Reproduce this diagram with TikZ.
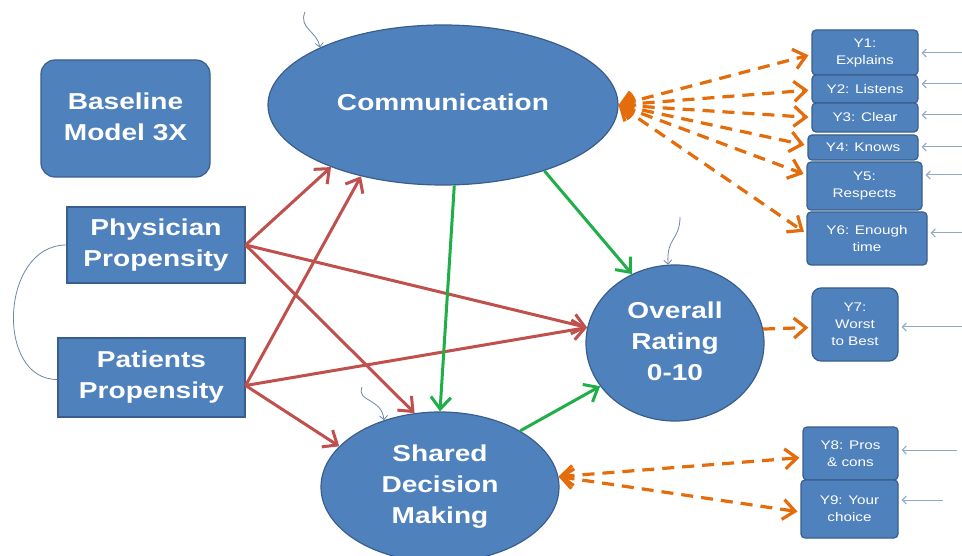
\documentclass[tikz,border=0pt]{standalone}
\usepackage{fontspec}
\setmainfont{Liberation Sans}[FakeStretch=1.22]
\usetikzlibrary{shapes.geometric,arrows.meta}

\definecolor{nodefill}{HTML}{4F81BD}
\definecolor{nodeline}{HTML}{3A5E8C}
\definecolor{pathred}{HTML}{C0504D}
\definecolor{pathgreen}{HTML}{1FAE48}
\definecolor{loadorange}{HTML}{E46C0A}
\definecolor{errline}{HTML}{8FA8C8}
\definecolor{disturb}{HTML}{6D87A8}

\tikzset{
  bigtext/.style={text=white, font=\bfseries\fontsize{23}{31}\selectfont, align=center},
  latent/.style={ellipse, fill=nodefill, draw=nodeline, line width=1.2pt, inner sep=0pt, bigtext},
  exogen/.style={rectangle, fill=nodefill, draw=nodeline, line width=1.2pt, inner sep=0pt, bigtext},
  titlebox/.style={exogen, rounded corners=14pt},
  indicator/.style={rectangle, rounded corners=4pt, fill=nodefill, draw=nodeline, line width=1.2pt,
    inner sep=0pt, text=white, font=\fontsize{12.5}{17}\selectfont, align=center},
  cause/.style={pathred, line width=3pt, -{Straight Barb[length=12pt,width=20pt]}},
  effect/.style={pathgreen, line width=3pt, -{Straight Barb[length=12pt,width=20pt]}},
  loading/.style={loadorange, line width=3.2pt, dash pattern=on 12pt off 8pt,
    {Straight Barb[length=12pt,width=20pt]}-{Straight Barb[length=12pt,width=20pt]}, shorten >=3pt},
  loadone/.style={loadorange, line width=3.2pt, dash pattern=on 12pt off 8pt,
    -{Straight Barb[length=12pt,width=20pt]}, shorten >=3pt},
  errarrow/.style={errline, line width=1pt, -{Straight Barb[length=4pt,width=8pt]}, shorten >=3pt},
  disturbance/.style={disturb, line width=0.8pt, -{Straight Barb[length=4pt,width=8pt]}},
  covary/.style={disturb, line width=0.8pt}
}

\begin{document}
\begin{tikzpicture}[x=1pt,y=-1pt]
\useasboundingbox[fill=white] (0,0) rectangle (962,556);

% latent factors
\node[latent, minimum width=350pt, minimum height=160pt] (comm) at (443,105) {\raisebox{6pt}{Communication}};
\node[latent, minimum width=178pt, minimum height=156pt] (overall) at (675,343) {\raisebox{4pt}{\begin{tabular}{@{}c@{}}Overall\\Rating\\0-10\end{tabular}}};
\node[latent, minimum width=238pt, minimum height=150pt] (shared) at (440,487) {Shared\\Decision\\Making};

% title and exogenous propensities
\node[titlebox, minimum width=169pt, minimum height=117pt] (title) at (125.5,118.5) {\raisebox{4pt}{\begin{tabular}{@{}c@{}}Baseline\\Model 3X\end{tabular}}};
\node[exogen, minimum width=178pt, minimum height=76pt] (phys) at (156,245) {Physician\\Propensity};
\node[exogen, minimum width=187pt, minimum height=79pt] (pat) at (151.5,377.5) {Patients\\Propensity};

% indicators
\node[indicator, minimum width=106pt, minimum height=45pt] (y1) at (865,52.5) {Y1:\\Explains};
\node[indicator, minimum width=106pt, minimum height=28pt] (y2) at (865,89) {Y2: Listens};
\node[indicator, minimum width=106pt, minimum height=29pt] (y3) at (865,117.5) {Y3: Clear};
\node[indicator, minimum width=110pt, minimum height=25pt] (y4) at (863,147.5) {Y4: Knows};
\node[indicator, minimum width=115pt, minimum height=48pt] (y5) at (864.5,186) {Y5:\\Respects};
\node[indicator, minimum width=120pt, minimum height=53pt] (y6) at (867,238.5) {Y6: Enough\\time};
\node[indicator, rounded corners=9pt, minimum width=86pt, minimum height=73pt] (y7) at (855,324.5) {Y7:\\Worst\\to Best};
\node[indicator, minimum width=95pt, minimum height=53pt] (y8) at (850.5,453.5) {Y8: Pros\\\& cons};
\node[indicator, minimum width=97pt, minimum height=58pt] (y9) at (849.5,509) {Y9: Your\\choice};

% covariance between the propensities
\draw[covary] (phys.west) .. controls (0,245) and (-5,380) .. ([yshift=-2pt]pat.west);

% structural paths from the propensities
\draw[cause] (phys.east) -- (comm.209);
\draw[cause] (phys.east) -- (overall.170);
\draw[cause] (phys.east) -- (shared.109);
\draw[cause] ([yshift=-8pt]pat.east) -- (comm.221);
\draw[cause] ([yshift=-8pt]pat.east) -- (overall.170);
\draw[cause] ([yshift=-8pt]pat.east) -- (shared.158);

% paths between latent factors
\draw[effect] (comm.278) -- (shared.90);
\draw[effect] (comm.-33) -- (overall.122);
\draw[effect] (shared.35) -- (overall.210);

% measurement loadings
\draw[loading] (comm.east) -- ([yshift=-2pt]y1.west);
\draw[loading] (comm.east) -- ([yshift=-1pt]y2.west);
\draw[loading] (comm.east) -- (y3.west);
\draw[loading] (comm.east) -- ([yshift=2pt]y4.west);
\draw[loading] (comm.east) -- ([yshift=11pt]y5.west);
\draw[loading] (comm.east) -- ([yshift=5pt]y6.west);
\draw[loadone] (overall.9) -- ([yshift=-3pt]y7.west);
\draw[loading] (shared.5) -- ([yshift=-4pt]y8.west);
\draw[loading] (shared.5) -- ([yshift=-3pt]y9.west);

% disturbances on the latent factors
\coordinate (d1) at (305,12);
\coordinate (d2) at (680,217);
\coordinate (d3) at (362,387);
\draw[disturbance] (d1) .. controls (298,28) and (318,32) .. (comm.155);
\draw[disturbance] (d2) .. controls (680,240) and (666,238) .. (overall.95);
\draw[disturbance] (d3) .. controls (356,402) and (382,398) .. (shared.130);

% measurement errors
\coordinate (e1) at (962,53);
\coordinate (e2) at (962,84);
\coordinate (e3) at (962,115);
\coordinate (e4) at (962,147);
\coordinate (e5) at (962,175);
\coordinate (e6) at (962,233);
\coordinate (e7) at (962,327);
\coordinate (e8) at (957,450);
\coordinate (e9) at (943,500);
\draw[errarrow] (e1) -- (e1 -| y1.east);
\draw[errarrow] (e2) -- (e2 -| y2.east);
\draw[errarrow] (e3) -- (e3 -| y3.east);
\draw[errarrow] (e4) -- (e4 -| y4.east);
\draw[errarrow] (e5) -- (e5 -| y5.east);
\draw[errarrow] (e6) -- (e6 -| y6.east);
\draw[errarrow] (e7) -- (e7 -| y7.east);
\draw[errarrow] (e8) -- (e8 -| y8.east);
\draw[errarrow] (e9) -- (e9 -| y9.east);
\end{tikzpicture}
\end{document}
